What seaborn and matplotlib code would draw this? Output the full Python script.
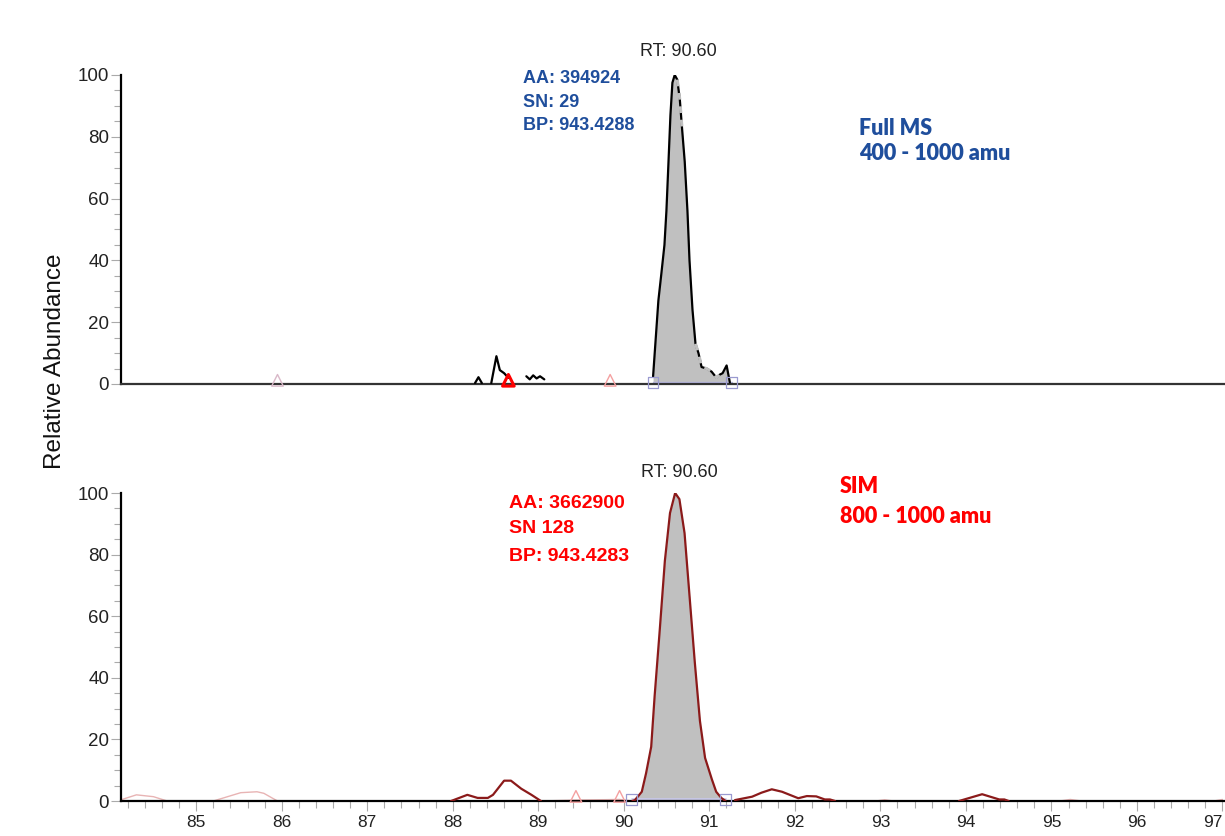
import numpy as np
import pandas as pd
import matplotlib
matplotlib.use("Agg")
import matplotlib.pyplot as plt
import seaborn as sns

# ---------------- data ----------------
# Full MS trace (top); segments separated by "seg"
fm_seg = [0, 0, 0,
          1, 1, 1, 1, 1,
          2, 2, 2, 2, 2, 2,
          3] + [3] * 25
fm_x = [88.26, 88.30, 88.34,
        88.45, 88.51, 88.55, 88.60, 88.65,
        88.86, 88.90, 88.94, 88.98, 89.02, 89.07,
        90.342, 90.404, 90.440, 90.475, 90.498, 90.521, 90.545, 90.568, 90.595,
        90.625, 90.655, 90.680, 90.712, 90.744, 90.768, 90.803, 90.838, 90.873,
        90.909, 90.967, 91.026, 91.084, 91.120, 91.155, 91.202, 91.240]
fm_y = [0.3, 2.2, 0.3,
        0.3, 9.0, 4.5, 3.5, 2.0,
        2.5, 1.5, 2.8, 1.8, 2.5, 1.5,
        2.4, 27, 36, 45, 56, 71, 87, 97.5, 100,
        98.5, 92, 83, 72, 56, 40, 24, 13, 10,
        5.5, 5.0, 4.0, 2.0, 3.0, 3.5, 6.0, 0.5]
fm_dashed = [(90.61, 90.71), (90.83, 91.16)]

# SIM trace (bottom): main (dark red) and faint segments
sim_seg = [0] * 10 + [1] * 20 + [2] * 11 + [3] * 5
sim_x = [87.98, 88.17, 88.29, 88.41, 88.47, 88.60, 88.68, 88.80, 88.92, 89.03,
         90.10, 90.13, 90.21, 90.26, 90.32, 90.36, 90.42, 90.48, 90.54, 90.60,
         90.65, 90.71, 90.77, 90.83, 90.89, 90.95, 91.03, 91.08, 91.14, 91.19,
         91.30, 91.50, 91.61, 91.73, 91.85, 92.04, 92.14, 92.25, 92.35, 92.41, 92.47,
         93.92, 94.19, 94.39, 94.45, 94.50]
sim_y = [0, 2, 1, 1, 2, 6.6, 6.6, 4, 2, 0,
         0, 0.3, 3, 9, 17.6, 34, 55.5, 78, 93.5, 100,
         98, 87, 66, 45, 26, 14, 7, 3, 1, 0,
         0.3, 1.4, 2.7, 3.8, 3.0, 0.9, 1.6, 1.5, 0.5, 0.5, 0,
         0, 2.2, 0.5, 0.5, 0]
faint_seg = [0] * 9 + [1] * 4 + [2] * 3 + [3] * 3 + [4] * 2
faint_x = [84.11, 84.30, 84.50, 84.66, 85.20, 85.52, 85.71, 85.79, 85.95,
           89.03, 89.44, 89.95, 90.10,
           92.95, 93.05, 93.15,
           95.10, 95.22, 95.35,
           96.90, 97.00]
faint_y = [0.3, 2.0, 1.4, 0, 0, 2.7, 3.0, 2.5, 0,
           0, 0.3, 0.5, 0,
           0, 0.4, 0,
           0, 0.5, 0,
           0, 0.5]

# peak markers
top_tri_x = [85.95, 88.65, 89.84]
top_tri_c = ["#d9b8c8", "#ff0000", "#f4a0a0"]
top_sq_x = [90.34, 91.26]
bot_tri_x = [89.44, 89.95]
bot_sq_x = [90.09, 91.19]

x_ticks = [85, 86, 87, 88, 89, 90, 91, 92, 93, 94, 95, 96, 97]
y_ticks = [0, 20, 40, 60, 80, 100]

BLUE = "#1f4e9c"
RED = "#ff0000"
DARKRED = "#8b1a1a"
FILL = "#c0c0c0"

# ---------------- figure ----------------
sns.set_theme(style="white")
plt.rcParams["font.family"] = ["Liberation Sans", "DejaVu Sans"]

fig = plt.figure(figsize=(12.25, 8.36), dpi=100)
xl = (84.12, 97.03)
ax1 = fig.add_axes([121 / 1225, 1 - 384 / 836, 1 - 121 / 1225, 309 / 836])
ax2 = fig.add_axes([121 / 1225, 1 - 801 / 836, 1 - 121 / 1225, 308 / 836])

for ax in (ax1, ax2):
    ax.set_xlim(*xl)
    ax.set_ylim(0, 100)
    for s in ("top", "right"):
        ax.spines[s].set_visible(False)
    ax.spines["left"].set_color("black")
    ax.spines["left"].set_linewidth(1.6)
    ax.spines["bottom"].set_linewidth(1.6)
    ax.set_yticks(y_ticks)
    ax.set_yticks(np.arange(0, 101, 5), minor=True)
    ax.tick_params(axis="y", which="major", direction="out", length=7, width=0.8,
                   color="#aaaaaa", labelsize=13.5, labelcolor="#222222", pad=1.5, left=True)
    ax.tick_params(axis="y", which="minor", direction="out", length=5, width=0.8,
                   color="#aaaaaa", left=True)
    ax.set_ylabel("")
    ax.set_xlabel("")
    ax.patch.set_alpha(0)

ax1.spines["bottom"].set_color("#333333")
ax1.set_xticks([])
ax1.tick_params(axis="x", which="both", bottom=False, labelbottom=False)

ax2.spines["bottom"].set_color("black")
ax2.set_xticks(x_ticks)
ax2.set_xticks(np.arange(84.2, 97.01, 0.2), minor=True)
ax2.tick_params(axis="x", which="major", direction="out", length=7, width=0.8,
                color="#aaaaaa", labelsize=12.5, labelcolor="#222222", pad=3, bottom=True)
ax2.tick_params(axis="x", which="minor", direction="out", length=5, width=0.8,
                color="#aaaaaa", bottom=True)
for lab in ax2.get_xticklabels():
    if lab.get_text() == "97":
        lab.set_horizontalalignment("right")

# ---- top panel: Full MS ----
fm = pd.DataFrame({"x": fm_x, "y": fm_y, "seg": fm_seg})
pk = fm[fm.seg == 3]
ax1.fill_between(pk.x, 0, pk.y, color=FILL, lw=0, zorder=1)
ax1.plot([top_sq_x[0], top_sq_x[1]], [0.6, 0.6], color="#b8b8e0", lw=1, zorder=2)
sns.lineplot(data=fm, x="x", y="y", units="seg", estimator=None, sort=False,
             color="black", lw=1.6, ax=ax1, zorder=3, legend=False)
# dashed look on parts of the trace
for a, b in fm_dashed:
    part = pk[(pk.x >= a) & (pk.x <= b)]
    ax1.plot(part.x, part.y, color=FILL, lw=2.2, ls=(0, (2.2, 2.2)), zorder=4)
ax1.set_xlabel("")
ax1.set_ylabel("")
sns.scatterplot(x=top_tri_x, y=[1.2] * 3, marker="^", s=70, facecolors="none",
                edgecolors=top_tri_c, linewidth=1.0, ax=ax1, zorder=5, clip_on=False, legend=False)
ax1.collections[-1].set_edgecolors(top_tri_c)
ax1.collections[-1].set_linewidths([1.0, 2.2, 1.0])
sns.scatterplot(x=top_sq_x, y=[0.5] * 2, marker="s", s=60, facecolors="none",
                edgecolors="#9a9ad0", linewidth=0.9, ax=ax1, zorder=5, clip_on=False, legend=False)

ax1.text(90.64, 106.1, "RT: 90.60", ha="center", va="baseline", fontsize=13,
         color="#222222", clip_on=False)
for txt, yb in [("AA: 394924", 97.4), ("SN: 29", 89.7), ("BP: 943.4288", 82.2)]:
    ax1.text(88.82, yb, txt, ha="left", va="baseline", fontsize=13, fontweight="bold",
             color=BLUE, clip_on=False)
for txt, yb in [("Full MS", 80.6), ("400 - 1000 amu", 72.5)]:
    ax1.text(92.75, yb, txt, ha="left", va="baseline", fontsize=15.5, fontweight="heavy",
             color=BLUE, family=["Lato", "DejaVu Sans"], clip_on=False)

# ---- bottom panel: SIM ----
fa = pd.DataFrame({"x": faint_x, "y": faint_y, "seg": faint_seg})
sm = pd.DataFrame({"x": sim_x, "y": sim_y, "seg": sim_seg})
spk = sm[sm.seg == 1]
ax2.fill_between(spk.x, 0, spk.y, color=FILL, lw=0, zorder=1)
ax2.plot([bot_sq_x[0], bot_sq_x[1]], [0.7, 0.7], color="#c8c8ec", lw=1.2, zorder=2)
sns.lineplot(data=fa, x="x", y="y", units="seg", estimator=None, sort=False,
             color="#e8b4b4", lw=1.0, ax=ax2, zorder=2, legend=False)
sns.lineplot(data=sm, x="x", y="y", units="seg", estimator=None, sort=False,
             color=DARKRED, lw=1.6, ax=ax2, zorder=3, legend=False)
ax2.set_xlabel("")
ax2.set_ylabel("")
sns.scatterplot(x=bot_tri_x, y=[1.5] * 2, marker="^", s=70, facecolors="none",
                edgecolors="#f4a0a0", linewidth=1.0, ax=ax2, zorder=5, clip_on=False, legend=False)
sns.scatterplot(x=bot_sq_x, y=[0.5] * 2, marker="s", s=60, facecolors="none",
                edgecolors="#9a9ad0", linewidth=0.9, ax=ax2, zorder=5, clip_on=False, legend=False)

ax2.text(90.65, 105.3, "RT: 90.60", ha="center", va="baseline", fontsize=13,
         color="#222222", clip_on=False)
for txt, yb in [("AA: 3662900", 95.1), ("SN 128", 87.0), ("BP: 943.4283", 78.0)]:
    ax2.text(88.66, yb, txt, ha="left", va="baseline", fontsize=14, fontweight="bold",
             color=RED, clip_on=False)
for txt, yb in [("SIM", 100.0), ("800 - 1000 amu", 90.3)]:
    ax2.text(92.53, yb, txt, ha="left", va="baseline", fontsize=15.5, fontweight="heavy",
             color=RED, family=["Lato", "DejaVu Sans"], clip_on=False)

fig.text(55 / 1225, 1 - 361 / 836, "Relative Abundance", rotation=90, ha="center",
         va="center", fontsize=17.5, color="#111111")

fig.savefig("out.png", dpi=100)
